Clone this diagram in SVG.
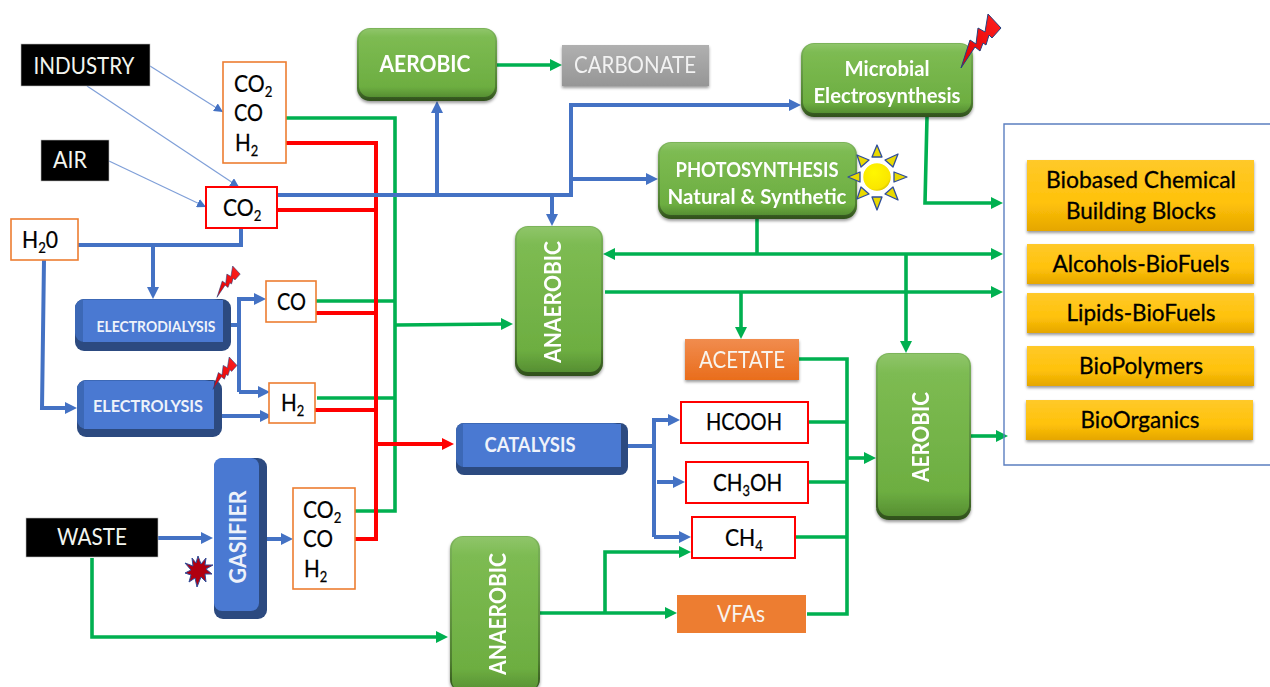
<svg xmlns="http://www.w3.org/2000/svg" width="1270" height="687" viewBox="0 0 1270 687">
<style>
text{font-family:"Lato","Noto Sans","Liberation Sans",sans-serif;text-anchor:middle}
.w{fill:#fff;font-weight:700;font-size:22px}
.lt{fill:#f3f5ef;font-size:23px}
.k{fill:#000;font-size:24px;text-anchor:start;stroke:#000;stroke-width:.25}
.y{fill:#000;font-size:23px;stroke:#000;stroke-width:.3}
.s{font-size:15px}
.bw{fill:#eef2fa;font-weight:700}
.ln{fill:none;stroke-linejoin:miter}
.g{stroke:#00b050;stroke-width:3.6}
.r{stroke:#ff0000;stroke-width:4}
.b{stroke:#4472c4;stroke-width:4}
.t{stroke:#7f9fd8;stroke-width:1.2}
.ob{fill:#fff;stroke:#ed7d31;stroke-width:1.6}
.rb{fill:#fff;stroke:#ff0000;stroke-width:2}
.blk{fill:#000;stroke:#bbb;stroke-width:.6}
.dk{fill:#2c4a80}
.md{fill:#3c68b6}
.fc{fill:#4a79d2}
.grn{fill:url(#gg)}
.yel{fill:url(#yy)}
.ray{fill:#e9d900;stroke:#2f4d9a;stroke-width:1.3;stroke-linejoin:round}
</style>
<defs>
<linearGradient id="gg" x1="0" y1="0" x2="0" y2="1"><stop offset="0" stop-color="#8fc56a"/><stop offset=".12" stop-color="#7dbb52"/><stop offset=".85" stop-color="#6dae41"/><stop offset="1" stop-color="#568f32"/></linearGradient>
<linearGradient id="gd" x1="0" y1="0" x2="0" y2="1"><stop offset="0" stop-color="#7cb45a"/><stop offset=".8" stop-color="#4f7f30"/><stop offset="1" stop-color="#2f4f1c"/></linearGradient>
<linearGradient id="yy" x1="0" y1="0" x2="0" y2="1"><stop offset="0" stop-color="#ffc92a"/><stop offset=".6" stop-color="#ffc20a"/><stop offset="1" stop-color="#e5a600"/></linearGradient>
<linearGradient id="oo" x1="0" y1="0" x2="0" y2="1"><stop offset="0" stop-color="#f18c4e"/><stop offset="1" stop-color="#e96d1c"/></linearGradient>
<linearGradient id="gy" x1="0" y1="0" x2="0" y2="1"><stop offset="0" stop-color="#b0b0b0"/><stop offset="1" stop-color="#969696"/></linearGradient>
<linearGradient id="bo" x1="1" y1="0" x2="0" y2="1"><stop offset="0" stop-color="#ff2020"/><stop offset="1" stop-color="#e00000"/></linearGradient>
<radialGradient id="su" cx=".4" cy=".35" r=".7"><stop offset="0" stop-color="#fff700"/><stop offset=".8" stop-color="#fae600"/><stop offset="1" stop-color="#c9b400"/></radialGradient>
<filter id="sh" x="-10%" y="-10%" width="120%" height="125%"><feDropShadow dx="0" dy="2" stdDeviation="1.8" flood-color="#000" flood-opacity=".4"/></filter>
<marker id="mg" markerUnits="userSpaceOnUse" viewBox="0 0 12 12" markerWidth="12" markerHeight="12" refX="2" refY="6" orient="auto"><path d="M0 0L12 6L0 12Z" fill="#00b050"/></marker>
<marker id="mb" markerUnits="userSpaceOnUse" viewBox="0 0 12 12" markerWidth="12" markerHeight="12" refX="2" refY="6" orient="auto"><path d="M0 0L12 6L0 12Z" fill="#4472c4"/></marker>
<marker id="mr" markerUnits="userSpaceOnUse" viewBox="0 0 12 12" markerWidth="12" markerHeight="12" refX="2" refY="6" orient="auto"><path d="M0 0L12 6L0 12Z" fill="#ff0000"/></marker>
<marker id="mt" markerUnits="userSpaceOnUse" viewBox="0 0 9 9" markerWidth="9" markerHeight="9" refX="9" refY="4.5" orient="auto"><path d="M0 0L9 4.5L0 9Z" fill="#4472c4"/></marker>
<path id="bolt" d="M0 54L9 26L15 30L17 14L24 18L27 0L40 14L31 24L28 21L25 31L22 29L19 37L14 33Z" fill="url(#bo)" stroke="#23407f" stroke-width="1" stroke-linejoin="miter"/>
</defs>
<rect width="1270" height="687" fill="#fff"/>

<g id="connectors">
<g class="ln g">
<path d="M286 118H395V511H353"/>
<path d="M497 65H552" marker-end="url(#mg)"/>
<path d="M316 301H395M317 398H395"/>
<path d="M396 325L503 324" marker-end="url(#mg)"/>
<path d="M92 558V637H438" marker-end="url(#mg)"/>
<path d="M757 219V254"/>
<path d="M757 254H613" marker-end="url(#mg)"/>
<path d="M757 254H993" marker-end="url(#mg)"/>
<path d="M605 292H993" marker-end="url(#mg)"/>
<path d="M741 292V329" marker-end="url(#mg)"/>
<path d="M906 254V343" marker-end="url(#mg)"/>
<path d="M927 117L925 203H993" marker-end="url(#mg)"/>
<path d="M799 359H847V614H807"/>
<path d="M808 422H846M808 482H846M795 537H846"/>
<path d="M848 458H866" marker-end="url(#mg)"/>
<path d="M540 613H667" marker-end="url(#mg)"/>
<path d="M605 613V552H681" marker-end="url(#mg)"/>
<path d="M971 436H998" marker-end="url(#mg)"/>
</g>
<g class="ln r">
<path d="M284 143H376V539H355"/>
<path d="M277 210H376M316 313H378M315 410H376"/>
<path d="M376 444H444" marker-end="url(#mr)"/>
</g>
<g class="ln b">
<path d="M277 195H571V105H791" marker-end="url(#mb)"/>
<path d="M571 179H648" marker-end="url(#mb)"/>
<path d="M437 195V111" marker-end="url(#mb)"/>
<path d="M552 195V216" marker-end="url(#mb)"/>
<path d="M78 245H241V228"/>
<path d="M153 245V289" marker-end="url(#mb)"/>
<path d="M44 260L42 408H67" marker-end="url(#mb)"/>
<path d="M231 325H239"/>
<path d="M239 392H260" marker-end="url(#mb)"/>
<path d="M239 392V299H256" marker-end="url(#mb)"/>
<path d="M220 416H262" marker-end="url(#mb)"/>
<path d="M158 538H203" marker-end="url(#mb)"/>
<path d="M267 539H283" marker-end="url(#mb)"/>
<path d="M628 446H654"/>
<path d="M654 537V420H670" marker-end="url(#mb)"/>
<path d="M654 537H681" marker-end="url(#mb)"/>
<path d="M657 482H675" marker-end="url(#mb)"/>
</g>
<g class="ln t">
<path d="M150 66L223 112" marker-end="url(#mt)"/>
<path d="M87 86L239 187" marker-end="url(#mt)"/>
<path d="M109 161L206 207" marker-end="url(#mt)"/>
</g>
</g>

<g id="industry"><rect class="blk" x="21" y="44" width="129" height="42"/><text class="lt" x="84" y="74" textLength="101" lengthAdjust="spacingAndGlyphs">INDUSTRY</text></g>
<g id="air"><rect class="blk" x="41" y="140" width="68" height="41"/><text class="lt" x="70" y="168" textLength="34" lengthAdjust="spacingAndGlyphs">AIR</text></g>
<g id="waste"><rect class="blk" x="26" y="518" width="132" height="39"/><text class="lt" x="92" y="545" textLength="70" lengthAdjust="spacingAndGlyphs">WASTE</text></g>

<g id="gas-top"><rect class="ob" x="223" y="62" width="63" height="101"/>
<text class="k" transform="translate(234 92) scale(.88 1)">CO<tspan class="s" dy="5">2</tspan></text>
<text class="k" x="234" y="121" textLength="29" lengthAdjust="spacingAndGlyphs">CO</text>
<text class="k" transform="translate(235 151) scale(.86 1)">H<tspan class="s" dy="5">2</tspan></text></g>
<g id="co2-air"><rect class="rb" x="206" y="187" width="71" height="41"/><text class="k" transform="translate(223 216) scale(.88 1)">CO<tspan class="s" dy="5">2</tspan></text></g>
<g id="h2o"><rect class="ob" x="11" y="219" width="67" height="41"/><text class="k" transform="translate(22 248) scale(.88 1)">H<tspan class="s" dy="5">2</tspan><tspan dy="-5">0</tspan></text></g>
<g id="co"><rect class="ob" x="266" y="281" width="50" height="41"/><text class="k" x="277" y="310" textLength="29" lengthAdjust="spacingAndGlyphs">CO</text></g>
<g id="h2"><rect class="ob" x="269" y="383" width="46" height="40"/><text class="k" transform="translate(281 411) scale(.86 1)">H<tspan class="s" dy="5">2</tspan></text></g>
<g id="gas-waste"><rect class="ob" x="293" y="488" width="62" height="101"/>
<text class="k" transform="translate(303 518) scale(.88 1)">CO<tspan class="s" dy="5">2</tspan></text>
<text class="k" x="303" y="547" textLength="30" lengthAdjust="spacingAndGlyphs">CO</text>
<text class="k" transform="translate(304 577) scale(.86 1)">H<tspan class="s" dy="5">2</tspan></text></g>

<g id="electrodialysis"><rect class="dk" x="75" y="299" width="156" height="52" rx="9"/><rect class="md" x="75" y="299" width="148" height="43" rx="9"/><rect class="fc" x="83" y="300" width="140" height="42"/><text class="bw" x="156" y="332" font-size="15" textLength="119" lengthAdjust="spacingAndGlyphs">ELECTRODIALYSIS</text></g>
<g id="electrolysis"><rect class="dk" x="77" y="380" width="145" height="57" rx="9"/><rect class="md" x="77" y="380" width="137" height="49" rx="9"/><rect class="fc" x="84" y="381" width="130" height="48"/><text class="bw" x="148" y="412" font-size="17" textLength="110" lengthAdjust="spacingAndGlyphs">ELECTROLYSIS</text></g>
<g id="gasifier"><rect class="dk" x="214" y="458" width="53" height="161" rx="9"/><rect class="fc" x="214" y="458" width="45" height="153" rx="8"/><text class="bw" transform="translate(246 537) rotate(-90)" font-size="23" textLength="93" lengthAdjust="spacingAndGlyphs">GASIFIER</text></g>
<g id="catalysis"><rect class="dk" x="456" y="423" width="172" height="52" rx="8"/><rect class="md" x="456" y="423" width="165" height="44" rx="8"/><rect class="fc" x="463" y="424" width="158" height="43"/><text class="bw" x="530" y="452" font-size="21" textLength="91" lengthAdjust="spacingAndGlyphs">CATALYSIS</text></g>

<g id="aerobic-top" filter="url(#sh)"><rect x="357" y="28" width="140" height="73" rx="13" fill="url(#gd)"/><rect x="359" y="29" width="136" height="68" rx="11" class="grn"/><text x="425" y="72" class="w" textLength="91" lengthAdjust="spacingAndGlyphs">AEROBIC</text></g>
<g id="carbonate" filter="url(#sh)"><rect x="562" y="45" width="147" height="41" fill="url(#gy)"/><text x="635" y="73" fill="#f2f2f2" font-size="23" textLength="122" lengthAdjust="spacingAndGlyphs">CARBONATE</text></g>
<g id="microbial" filter="url(#sh)"><rect x="801" y="43" width="172" height="74" rx="13" fill="url(#gd)"/><rect x="803" y="44" width="168" height="69" rx="11" class="grn"/><text x="887" y="76" class="w" style="font-size:21px" textLength="85" lengthAdjust="spacingAndGlyphs">Microbial</text><text x="887" y="103" class="w" style="font-size:21px" textLength="147" lengthAdjust="spacingAndGlyphs">Electrosynthesis</text></g>
<g id="photosynthesis" filter="url(#sh)"><rect x="658" y="142" width="199" height="77" rx="13" fill="url(#gd)"/><rect x="660" y="143" width="195" height="72" rx="11" class="grn"/><text x="757" y="177" class="w" style="font-size:20px" textLength="163" lengthAdjust="spacingAndGlyphs">PHOTOSYNTHESIS</text><text x="757" y="204" class="w" style="font-size:20px" textLength="179" lengthAdjust="spacingAndGlyphs">Natural &amp; Synthetic</text></g>
<g id="anaerobic-mid" filter="url(#sh)"><rect x="515" y="226" width="88" height="150" rx="13" fill="url(#gd)"/><rect x="517" y="227" width="84" height="145" rx="11" class="grn"/><text transform="translate(561 302) rotate(-90)" class="w" textLength="122" lengthAdjust="spacingAndGlyphs">ANAEROBIC</text></g>
<g id="aerobic-right" filter="url(#sh)"><rect x="876" y="353" width="95" height="167" rx="13" fill="url(#gd)"/><rect x="878" y="354" width="91" height="162" rx="11" class="grn"/><text transform="translate(929 437) rotate(-90)" class="w" textLength="90" lengthAdjust="spacingAndGlyphs">AEROBIC</text></g>
<g id="anaerobic-bottom" filter="url(#sh)"><rect x="450" y="536" width="90" height="156" rx="13" fill="url(#gd)"/><rect x="452" y="537" width="86" height="155" rx="11" class="grn"/><text transform="translate(506 614) rotate(-90)" class="w" textLength="122" lengthAdjust="spacingAndGlyphs">ANAEROBIC</text></g>

<g id="acetate" filter="url(#sh)"><rect x="685" y="339" width="114" height="41" fill="url(#oo)"/><text x="742" y="368" fill="#f8f4ee" font-size="23" textLength="86" lengthAdjust="spacingAndGlyphs">ACETATE</text></g>
<g id="hcooh"><rect class="rb" x="681" y="402" width="127" height="41"/><text class="k" x="706" y="430" textLength="76" lengthAdjust="spacingAndGlyphs">HCOOH</text></g>
<g id="ch3oh"><rect class="rb" x="686" y="462" width="122" height="41"/><text class="k" transform="translate(713 491) scale(.86 1)">CH<tspan class="s" dy="5">3</tspan><tspan dy="-5">OH</tspan></text></g>
<g id="ch4"><rect class="rb" x="692" y="517" width="103" height="41"/><text class="k" transform="translate(725 546) scale(.88 1)">CH<tspan class="s" dy="5">4</tspan></text></g>
<g id="vfas"><rect x="677" y="595" width="129" height="38" fill="#ed7d31"/><text x="741" y="622" fill="#f8f4ee" font-size="23" textLength="48" lengthAdjust="spacingAndGlyphs">VFAs</text></g>

<g id="products"><path d="M1270 124H1004V465H1270" fill="none" stroke="#5b7fc0" stroke-width="1.4"/>
<g filter="url(#sh)">
<rect class="yel" x="1027" y="160" width="227" height="71"/>
<rect class="yel" x="1027" y="244" width="227" height="40"/>
<rect class="yel" x="1027" y="293" width="227" height="40"/>
<rect class="yel" x="1027" y="346" width="227" height="40"/>
<rect class="yel" x="1026" y="400" width="227" height="40"/></g>
<text class="y" x="1141" y="188" textLength="190" lengthAdjust="spacingAndGlyphs">Biobased Chemical</text>
<text class="y" x="1141" y="219" textLength="150" lengthAdjust="spacingAndGlyphs">Building Blocks</text>
<text class="y" x="1141" y="272" textLength="177" lengthAdjust="spacingAndGlyphs">Alcohols-BioFuels</text>
<text class="y" x="1141" y="321" textLength="149" lengthAdjust="spacingAndGlyphs">Lipids-BioFuels</text>
<text class="y" x="1141" y="374" textLength="124" lengthAdjust="spacingAndGlyphs">BioPolymers</text>
<text class="y" x="1140" y="428" textLength="119" lengthAdjust="spacingAndGlyphs">BioOrganics</text></g>

<g id="sun">
<path class="ray" d="M877 145L882 157H872Z"/>
<path class="ray" d="M877 210L882 197H872Z"/>
<path class="ray" d="M848 177L860 172V182Z"/>
<path class="ray" d="M907 177L894 172V182Z"/>
<path class="ray" d="M857 155L869 160L861 167Z"/>
<path class="ray" d="M898 154L885 160L893 167Z"/>
<path class="ray" d="M857 199L861 187L869 194Z"/>
<path class="ray" d="M898 200L893 187L885 194Z"/>
<circle cx="877" cy="177" r="14.5" fill="url(#su)" stroke="#fff" stroke-width="1.5"/>
</g>
<g id="bolt-top"><use href="#bolt" transform="translate(961 14)"/></g>
<g id="bolt-electrodialysis"><use href="#bolt" transform="translate(217 266) scale(.58)"/></g>
<g id="bolt-electrolysis"><use href="#bolt" transform="translate(213 357) scale(.6)"/></g>
<g id="burst"><path d="M198 556L201 564L206 558L205 565L213 565L206 569L212 574L205 574L206 582L201 577L197 587L195 578L189 582L191 575L185 573L191 570L185 563L193 566L192 558L196 563Z" fill="#b00010" stroke="#2f4d9a" stroke-width="1"/></g>
</svg>
